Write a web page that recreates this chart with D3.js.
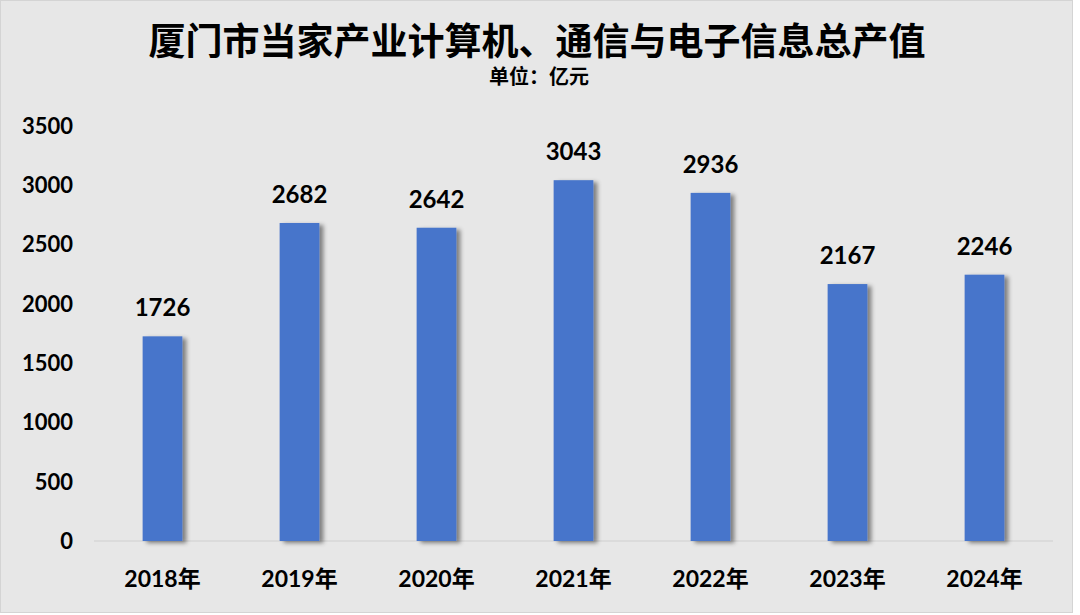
<!DOCTYPE html>
<html>
<head>
<meta charset="utf-8">
<script src="https://cdn.jsdelivr.net/npm/d3@7"></script>
<style>
  body { margin: 0; background: #fff; }
  text { font-family: "Lato", "Noto Sans CJK SC", sans-serif; font-weight: bold; fill: #000; }
</style>
</head>
<body>
<div id="chart"></div>
<script>
var years = ["2018年", "2019年", "2020年", "2021年", "2022年", "2023年", "2024年"];
var values = [1726, 2682, 2642, 3043, 2936, 2167, 2246];
var yTicks = [0, 500, 1000, 1500, 2000, 2500, 3000, 3500];

var w = 1080, h = 615;
var plotLeft = 94, plotRight = 1053, plotTop = 126, plotBottom = 541;

var svg = d3.select("#chart").append("svg").attr("width", w).attr("height", h);

// drop shadow for the bars
var f = svg.append("defs").append("filter").attr("id", "shadow")
  .attr("x", "-20%").attr("y", "-10%").attr("width", "150%").attr("height", "120%");
f.append("feDropShadow").attr("dx", 4).attr("dy", 2).attr("stdDeviation", 2)
  .attr("flood-color", "#000").attr("flood-opacity", 0.45);

svg.append("rect").attr("x", 0.5).attr("y", 0.5).attr("width", w - 8).attr("height", h - 3)
  .attr("fill", "#e7e7e7").attr("stroke", "#d4d4d4");

var x = d3.scaleBand().domain(years).range([plotLeft, plotRight]).paddingInner(0.71).paddingOuter(0.355);
var y = d3.scaleLinear().domain([0, 3500]).range([plotBottom, plotTop]);

// title
svg.append("text").attr("x", 537).attr("y", 55).attr("text-anchor", "middle")
  .style("font-size", "37px").text("厦门市当家产业计算机、通信与电子信息总产值");
svg.append("text").attr("x", 539).attr("y", 84).attr("text-anchor", "middle")
  .style("font-size", "20px").text("单位：亿元");

// y axis labels
svg.selectAll(".ytick").data(yTicks).enter().append("text")
  .attr("class", "ytick")
  .attr("x", 73)
  .attr("y", function(d) { return y(d); })
  .attr("dy", "0.36em")
  .attr("text-anchor", "end")
  .style("font-size", "22px")
  .text(function(d) { return d; });

// baseline
svg.append("line").attr("x1", plotLeft).attr("x2", plotRight).attr("y1", plotBottom).attr("y2", plotBottom)
  .style("stroke", "#d0d0d0").style("stroke-width", 1.2);

// bars
svg.selectAll(".bar").data(values).enter().append("rect")
  .attr("class", "bar")
  .attr("x", function(d, i) { return x(years[i]); })
  .attr("y", function(d) { return y(d); })
  .attr("width", x.bandwidth())
  .attr("height", function(d) { return plotBottom - y(d); })
  .attr("fill", "#4775cb")
  .attr("filter", "url(#shadow)");

// value labels
svg.selectAll(".val").data(values).enter().append("text")
  .attr("class", "val")
  .attr("x", function(d, i) { return x(years[i]) + x.bandwidth() / 2; })
  .attr("y", function(d) { return y(d) - 20; })
  .attr("text-anchor", "middle")
  .style("font-size", "24px")
  .text(function(d) { return d; });

// x labels
svg.selectAll(".xlab").data(years).enter().append("text")
  .attr("class", "xlab")
  .attr("x", function(d) { return x(d) + x.bandwidth() / 2; })
  .attr("y", 587)
  .attr("text-anchor", "middle")
  .style("font-size", "23px")
  .text(function(d) { return d; });
</script>
</body>
</html>
